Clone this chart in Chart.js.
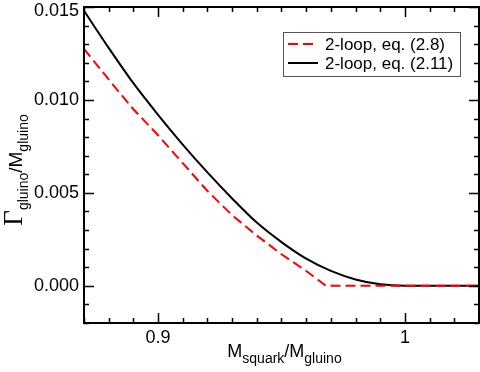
<!DOCTYPE html>
<html>
<head>
<meta charset="utf-8">
<script src="https://cdn.jsdelivr.net/npm/chart.js@4.4.0/dist/chart.umd.min.js"></script>
<style>
  html, body { margin: 0; padding: 0; background: #fff; }
  canvas { display: block; }
</style>
</head>
<body>
<canvas id="decay-chart" width="480" height="372"></canvas>
<script>
// values
const redX = [0.87, 0.88, 0.89, 0.90, 0.91, 0.92, 0.93, 0.94, 0.95, 0.96, 0.968, 0.98, 1.00, 1.03];
const redY = [0.01275, 0.0111, 0.0095, 0.0081, 0.0066, 0.0051, 0.0038, 0.0027, 0.0017, 0.0008, 0, 0, 0, 0];
const blackX = [0.87, 0.88, 0.89, 0.90, 0.91, 0.92, 0.93, 0.94, 0.95, 0.96, 0.97, 0.98, 0.99, 1.00, 1.03];
const blackY = [0.0148, 0.0128, 0.0109, 0.0092, 0.0076, 0.0061, 0.0047, 0.0034, 0.00235, 0.00146, 0.0008, 0.00034, 0.00008, 0, 0];
const seriesLabels = ['2-loop, eq. (2.8)', '2-loop, eq. (2.11)'];
const xMajorTicks = [0.9, 1.0];
const yMajorTicks = [0.000, 0.005, 0.010, 0.015];

const SANS = '"Liberation Sans", Arial, Helvetica, sans-serif';
const SERIF = '"Liberation Serif", "Times New Roman", serif';
Chart.defaults.font.family = SANS;
Chart.defaults.color = '#000';

const near = (a, b) => Math.abs(a - b) < 1e-7;
const isMajorX = v => xMajorTicks.some(m => near(m, v));
const isMajorY = v => yMajorTicks.some(m => near(m, v));

function drawRich(ctx, parts, x, y) {
    let cx = x;
    parts.forEach(p => {
        ctx.font = p.font;
        ctx.fillText(p.t, cx, y + (p.dy || 0));
        cx += ctx.measureText(p.t).width;
    });
    return cx - x;
}
function richWidth(ctx, parts) {
    let w = 0;
    parts.forEach(p => { ctx.font = p.font; w += ctx.measureText(p.t).width; });
    return w;
}

const framePlugin = {
    id: 'frame',
    afterDatasetsDraw(chart) {
        const ctx = chart.ctx;
        const a = chart.chartArea;
        const xs = chart.scales.x, ys = chart.scales.y;
        ctx.save();
        ctx.strokeStyle = '#000';
        ctx.lineWidth = 2;
        ctx.strokeRect(a.left, a.top, a.right - a.left, a.bottom - a.top);

        // inward ticks on all four sides
        ctx.lineWidth = 1.5;
        ctx.beginPath();
        xs.ticks.forEach(t => {
            const px = Math.round(xs.getPixelForValue(t.value)) + 0.5;
            const len = isMajorX(t.value) ? 10 : 5;
            ctx.moveTo(px, a.bottom); ctx.lineTo(px, a.bottom - len);
            ctx.moveTo(px, a.top); ctx.lineTo(px, a.top + len);
        });
        ys.ticks.forEach(t => {
            const py = Math.round(ys.getPixelForValue(t.value)) + 0.5;
            const len = isMajorY(t.value) ? 10 : 5;
            ctx.moveTo(a.left, py); ctx.lineTo(a.left + len, py);
            ctx.moveTo(a.right, py); ctx.lineTo(a.right - len, py);
        });
        ctx.stroke();

        // y tick labels (top one kept inside the picture)
        ctx.fillStyle = '#000';
        ctx.font = '18px ' + SANS;
        ctx.textAlign = 'right';
        ctx.textBaseline = 'middle';
        ys.ticks.forEach(t => {
            if (!isMajorY(t.value)) return;
            const py = Math.max(ys.getPixelForValue(t.value), 11);
            ctx.fillText(t.value.toFixed(3), a.left - 5, py);
        });

        // legend box
        const bx = 283, by = 32, bw = 177, bh = 44;
        ctx.fillStyle = '#fff';
        ctx.fillRect(bx, by, bw, bh);
        ctx.strokeStyle = '#555';
        ctx.lineWidth = 1;
        ctx.strokeRect(bx + 0.5, by + 0.5, bw, bh);
        chart.data.datasets.forEach((ds, i) => {
            const ly = by + 12 + i * 19;
            ctx.strokeStyle = ds.borderColor;
            ctx.lineWidth = 2;
            ctx.setLineDash(ds.borderDash || []);
            ctx.beginPath();
            ctx.moveTo(288, ly); ctx.lineTo(318, ly);
            ctx.stroke();
            ctx.setLineDash([]);
            ctx.fillStyle = '#000';
            ctx.font = '17px ' + SANS;
            ctx.textBaseline = 'middle';
            ctx.textAlign = 'left';
            ctx.fillText(ds.label, 325, ly + 1);
        });

        // axis titles with subscripts
        ctx.fillStyle = '#000';
        ctx.textBaseline = 'alphabetic';
        ctx.textAlign = 'left';
        const xt = [
            { t: 'M', font: '18px ' + SANS },
            { t: 'squark', font: '14px ' + SANS, dy: 6 },
            { t: '/M', font: '18px ' + SANS },
            { t: 'gluino', font: '14px ' + SANS, dy: 6 }
        ];
        const xw = richWidth(ctx, xt);
        drawRich(ctx, xt, (a.left + a.right) / 2 - xw / 2 + 3, 357);

        const yt = [
            { t: 'Γ', font: '27px ' + SERIF },
            { t: 'gluino', font: '14px ' + SANS, dy: 6 },
            { t: '/M', font: '19px ' + SANS },
            { t: 'gluino', font: '14px ' + SANS, dy: 6 }
        ];
        const yw = richWidth(ctx, yt);
        ctx.translate(22, 170);
        ctx.rotate(-Math.PI / 2);
        drawRich(ctx, yt, -yw / 2, 0);
        ctx.restore();
    }
};

new Chart(document.getElementById('decay-chart'), {
    type: 'line',
    data: {
        datasets: [
            {
                label: seriesLabels[0],
                data: redX.map((x, i) => ({ x, y: redY[i] })),
                borderColor: '#ff0000',
                borderWidth: 2,
                borderDash: [10, 5],
                pointRadius: 0,
                tension: 0
            },
            {
                label: seriesLabels[1],
                data: blackX.map((x, i) => ({ x, y: blackY[i] })),
                borderColor: '#000000',
                borderWidth: 2,
                pointRadius: 0,
                cubicInterpolationMode: 'monotone'
            }
        ]
    },
    options: {
        responsive: false,
        animation: false,
        layout: { padding: { left: 0, right: 1, top: 7, bottom: 0 } },
        plugins: { legend: { display: false }, tooltip: { enabled: false } },
        scales: {
            x: {
                type: 'linear',
                min: 0.87,
                max: 1.03,
                afterFit(s) { s.height = 49; s.paddingLeft = 0; s.paddingRight = 0; },
                grid: { display: false, drawTicks: false },
                border: { display: false },
                ticks: {
                    stepSize: 0.01,
                    autoSkip: false,
                    maxRotation: 0,
                    padding: 4,
                    font: { size: 18 },
                    callback: v => isMajorX(v) ? String(Math.round(v * 10) / 10) : ''
                }
            },
            y: {
                type: 'linear',
                min: -0.002,
                max: 0.015,
                afterFit(s) { s.width = 84; s.paddingTop = 0; s.paddingBottom = 0; },
                grid: { display: false, drawTicks: false },
                border: { display: false },
                ticks: {
                    stepSize: 0.001,
                    autoSkip: false,
                    padding: 5,
                    font: { size: 18 },
                    callback: () => ''
                }
            }
        }
    },
    plugins: [framePlugin]
});
</script>
</body>
</html>
